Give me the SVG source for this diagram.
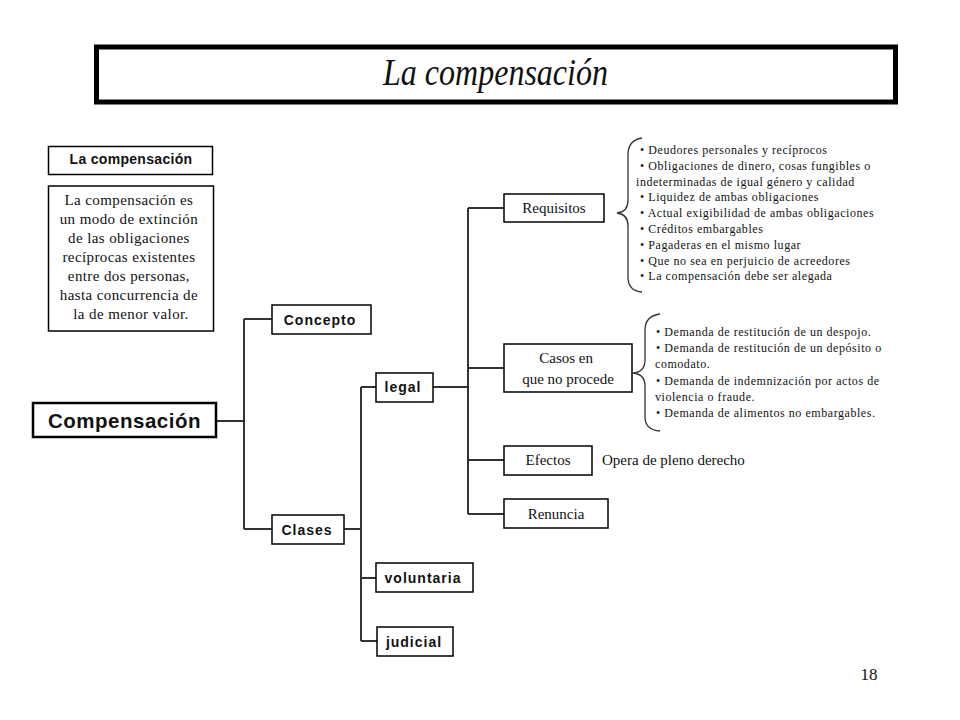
<svg xmlns="http://www.w3.org/2000/svg" width="960" height="720" viewBox="0 0 960 720">
<style>
.box{fill:#fff;stroke:#000;stroke-width:1.5}
.sans{font-family:"Liberation Sans",Arial,sans-serif;font-weight:bold;fill:#111}
.serif{font-family:"Liberation Serif","Times New Roman",serif;fill:#111}
.lbl{font-size:14px;letter-spacing:1px}
.sl{font-size:15px}
.bul{font-size:12px;letter-spacing:0.55px}
.conn{fill:none;stroke:#333;stroke-width:2}
.brace{fill:none;stroke:#333;stroke-width:1.3}
</style>
<rect width="960" height="720" fill="#fff"/>
<g id="title">
<rect x="96.5" y="47" width="799" height="55" fill="#fff" stroke="#000" stroke-width="5"/>
<text x="383" y="85" class="serif" font-size="38" font-style="italic" textLength="225" lengthAdjust="spacingAndGlyphs">La compensación</text>
</g>
<g id="def-title">
<rect class="box" x="48.5" y="146.5" width="164" height="28" stroke-width="2"/>
<text x="131" y="164" text-anchor="middle" class="sans" font-size="14" letter-spacing="0.3">La compensación</text>
</g>
<g id="def-text">
<rect class="box" x="48.5" y="186" width="165" height="145" stroke-width="2.5"/>
<text class="serif" font-size="15" text-anchor="middle" letter-spacing="0.4">
<tspan x="131" y="205">La compensación  es</tspan>
<tspan x="131" y="224">un modo de extinción</tspan>
<tspan x="131" y="243">de las obligaciones</tspan>
<tspan x="131" y="262">recíprocas  existentes</tspan>
<tspan x="131" y="281">entre dos personas,</tspan>
<tspan x="131" y="300">hasta concurrencia  de</tspan>
<tspan x="131" y="319">la  de menor valor.</tspan>
</text>
</g>
<g id="connectors">
<path class="conn" d="M216,421 H244 M244,319 V529 M244,319 H272 M244,529 H272"/>
<path class="conn" d="M344,529 H361 M361,387 V641 M361,387 H376 M361,578 H376 M361,641 H377"/>
<path class="conn" d="M433,387 H468 M468,208 V514 M468,208 H504 M468,368 H504 M468,460 H504 M468,514 H504"/>
<path class="brace" d="M642,138 Q628,140 628,155 L628,200 Q628,212 617,213 Q628,214 628,226 L628,277 Q628,291 642,292"/>
<path class="brace" d="M660,314 Q645,316 645,330 L645,360 Q645,372 633,373 Q645,374 645,386 L645,417 Q645,430 660,431"/>
</g>
<g id="compensacion">
<rect x="33" y="403" width="183" height="34" fill="#fff" stroke="#000" stroke-width="2.5"/>
<text x="124.5" y="428" text-anchor="middle" class="sans" font-size="20.5" letter-spacing="0.5">Compensación</text>
</g>
<g id="concepto">
<rect class="box" x="272" y="305" width="99" height="29"/>
<text x="320" y="325" text-anchor="middle" class="sans lbl">Concepto</text>
</g>
<g id="clases">
<rect class="box" x="272" y="515" width="72" height="29"/>
<text x="307" y="535" text-anchor="middle" class="sans lbl">Clases</text>
</g>
<g id="legal">
<rect class="box" x="376" y="373" width="57" height="29"/>
<text x="403" y="392" text-anchor="middle" class="sans lbl">legal</text>
</g>
<g id="voluntaria">
<rect class="box" x="376" y="563" width="97" height="29"/>
<text x="423" y="583" text-anchor="middle" class="sans lbl">voluntaria</text>
</g>
<g id="judicial">
<rect class="box" x="377" y="627" width="76" height="29"/>
<text x="414" y="647" text-anchor="middle" class="sans lbl">judicial</text>
</g>
<g id="requisitos">
<rect class="box" x="504" y="194" width="100" height="28"/>
<text x="554" y="213" text-anchor="middle" class="serif sl">Requisitos</text>
</g>
<g id="requisitos-list">
<text class="serif bul">
<tspan x="640" y="154">• Deudores personales y recíprocos</tspan>
<tspan x="640" y="170">• Obligaciones  de dinero, cosas fungibles  o</tspan>
<tspan x="636" y="186">indeterminadas de igual género y calidad</tspan>
<tspan x="640" y="201">• Liquidez  de ambas obligaciones</tspan>
<tspan x="640" y="217">• Actual exigibilidad  de ambas obligaciones</tspan>
<tspan x="640" y="233">• Créditos  embargables</tspan>
<tspan x="640" y="249">• Pagaderas en el mismo lugar</tspan>
<tspan x="640" y="265">• Que no sea en perjuicio  de acreedores</tspan>
<tspan x="640" y="280">• La compensación debe ser alegada</tspan>
</text>
</g>
<g id="casos">
<rect class="box" x="504" y="344" width="128" height="48"/>
<text class="serif sl" text-anchor="middle">
<tspan x="568" y="363">Casos en</tspan>
<tspan x="568" y="384">que no procede</tspan>
</text>
</g>
<g id="casos-list">
<text class="serif bul">
<tspan x="656" y="336">• Demanda de restitución de un despojo.</tspan>
<tspan x="656" y="352">• Demanda de restitución de un depósito o</tspan>
<tspan x="655" y="368">comodato.</tspan>
<tspan x="656" y="385">• Demanda de indemnización por actos de</tspan>
<tspan x="655" y="401">violencia o fraude.</tspan>
<tspan x="656" y="417">• Demanda de alimentos no embargables.</tspan>
</text>
</g>
<g id="efectos">
<rect class="box" x="504" y="446" width="88" height="29"/>
<text x="548" y="465" text-anchor="middle" class="serif sl">Efectos</text>
<text x="602" y="465" class="serif sl">Opera de pleno derecho</text>
</g>
<g id="renuncia">
<rect class="box" x="504" y="499" width="104" height="29"/>
<text x="556" y="519" text-anchor="middle" class="serif sl">Renuncia</text>
</g>
<text x="869" y="680" text-anchor="middle" class="serif" font-size="17">18</text>
</svg>
